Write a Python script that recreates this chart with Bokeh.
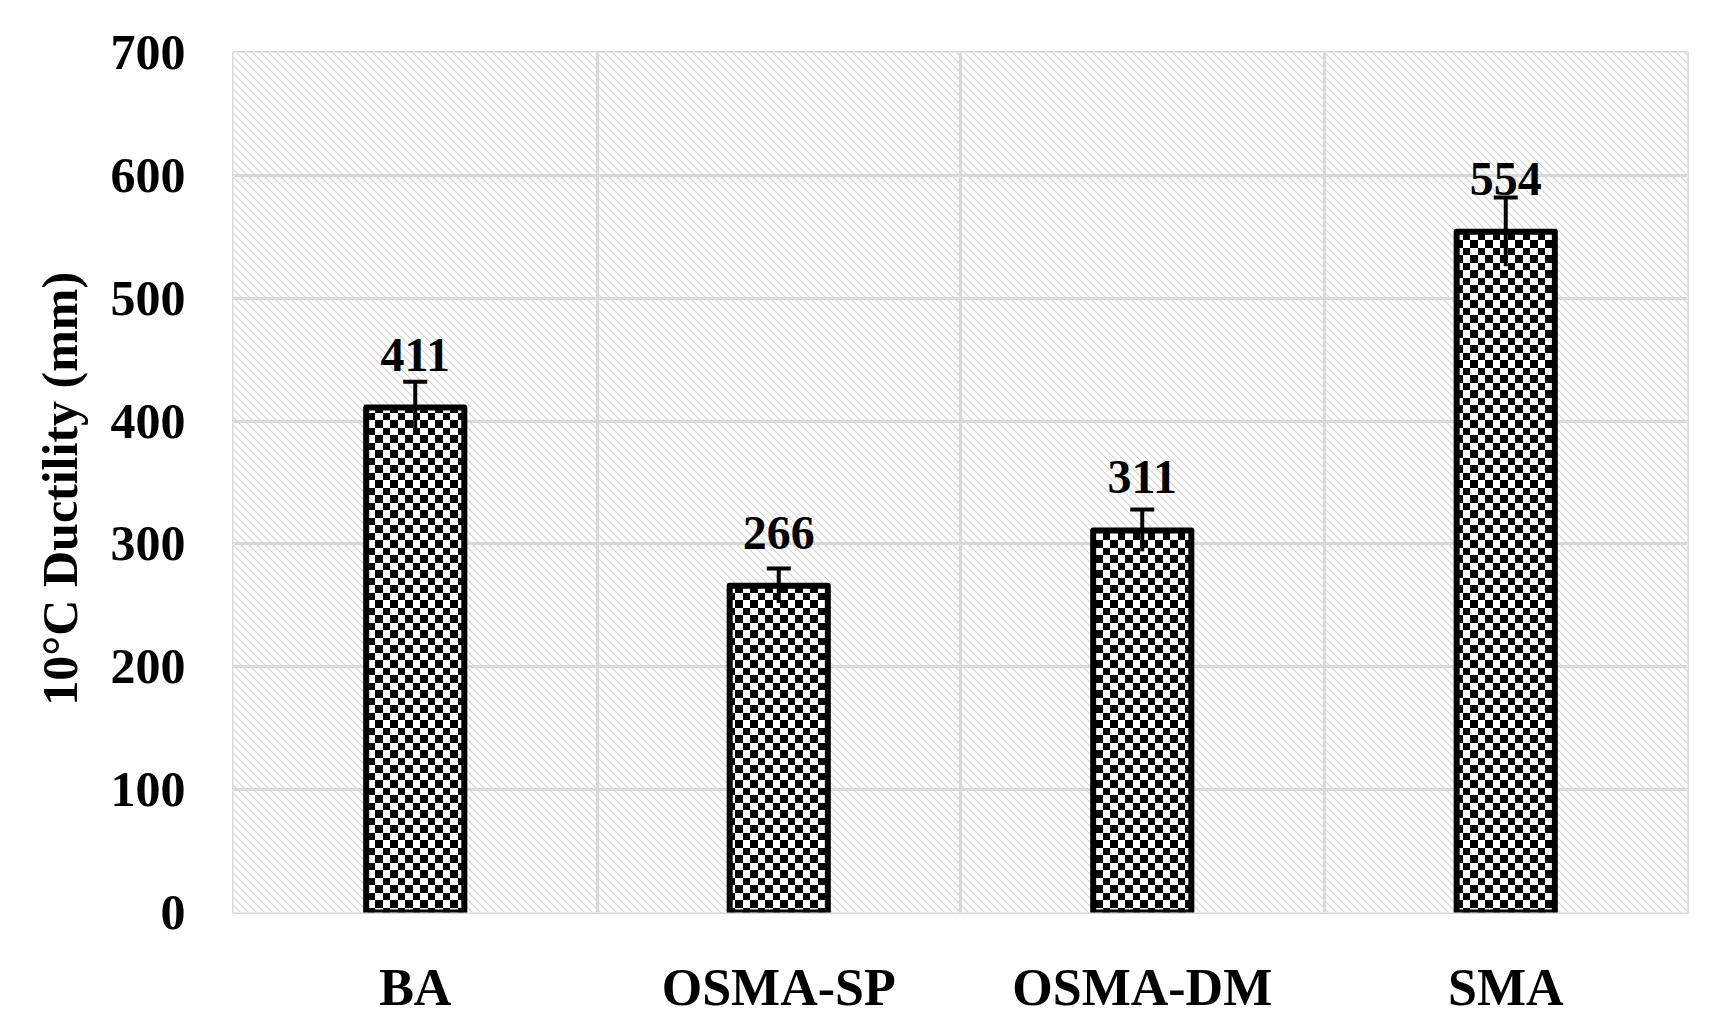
import base64, struct, zlib
from bokeh.plotting import figure
from bokeh.models import (ColumnDataSource, FixedTicker, Whisker, TeeHead, LabelSet,
                          BoxAnnotation, ImageURLTexture, FactorRange, Range1d)
from bokeh.core.properties import value
from bokeh.embed import file_html
from bokeh.resources import INLINE

categories = ["BA", "OSMA-SP", "OSMA-DM", "SMA"]
ductility = [411, 266, 311, 554]
errors = [21, 14, 17, 28]
y_ticks = [0, 100, 200, 300, 400, 500, 600, 700]
y_label = "10°C Ductility  (mm)"

src = ColumnDataSource(dict(
    cat=categories,
    val=ductility,
    upper=[v + e for v, e in zip(ductility, errors)],
    lower=[v - e for v, e in zip(ductility, errors)],
    label=[str(v) for v in ductility],
))

FONT = "Liberation Serif"


def png_url(n, pixel):
    rows = b""
    for yy in range(n):
        rows += b"\x00"
        for xx in range(n):
            g = pixel(xx, yy)
            rows += bytes([g, g, g, 255])

    def chunk(t, d):
        c = struct.pack(">I", len(d)) + t + d
        return c + struct.pack(">I", zlib.crc32(t + d) & 0xffffffff)
    png = (b"\x89PNG\r\n\x1a\n"
           + chunk(b"IHDR", struct.pack(">IIBBBBB", n, n, 8, 6, 0, 0, 0))
           + chunk(b"IDAT", zlib.compress(rows)) + chunk(b"IEND", b""))
    return "data:image/png;base64," + base64.b64encode(png).decode()


def checker_px(x, y):
    return 0 if (x < 8) == (y < 8) else 255


def diag_px(x, y):
    d = (x - y) % 8
    if d == 0:
        return 0xd2
    if d in (1, 7):
        return 0xf4
    return 0xff


checker_tex = ImageURLTexture(url=png_url(15, checker_px), repetition="repeat")
diag_tex = ImageURLTexture(url=png_url(8, diag_px), repetition="repeat")

p = figure(width=1704, height=1018,
           x_range=FactorRange(factors=categories), y_range=Range1d(0, 700),
           output_backend="svg", toolbar_location=None,
           min_border_left=233, min_border_right=17, min_border_top=52, min_border_bottom=105)
p.background_fill_color = "white"
p.border_fill_color = "white"
p.outline_line_color = "#d9d9d9"
p.outline_line_width = 3

bg = BoxAnnotation(fill_color="white", fill_alpha=1.0, line_alpha=0,
                   hatch_pattern="diag", hatch_extra={"diag": diag_tex}, level="image")
p.add_layout(bg)

p.ygrid.ticker = FixedTicker(ticks=y_ticks)
p.ygrid.grid_line_color = "#d9d9d9"
p.ygrid.grid_line_width = 3
p.xgrid.ticker = FixedTicker(ticks=[1, 2, 3])
p.xgrid.grid_line_color = "#d9d9d9"
p.xgrid.grid_line_width = 3

p.vbar(x="cat", top="val", width=0.27, source=src,
       fill_color="white", line_color="black", line_width=6, line_join="round",
       hatch_pattern=value("checker"), hatch_extra={"checker": checker_tex},
       hatch_color="black")

wk = Whisker(base="cat", upper="upper", lower="lower", source=src,
             line_color="black", line_width=4,
             upper_head=TeeHead(size=24, line_width=4, line_color="black"),
             lower_head=None, level="overlay")
p.add_layout(wk)

labels = LabelSet(x="cat", y="val", text="label", source=src, y_offset=37,
                  text_align="center", text_baseline="alphabetic",
                  text_font=value(FONT), text_font_size="48px", text_font_style="bold",
                  text_color="black")
p.add_layout(labels)

ya = p.yaxis[0]
ya.ticker = FixedTicker(ticks=y_ticks)
ya.axis_line_color = None
ya.major_tick_line_color = None
ya.minor_tick_line_color = None
ya.major_label_standoff = 42
ya.major_label_text_font = FONT
ya.major_label_text_font_size = "50px"
ya.major_label_text_font_style = "bold"
ya.major_label_text_color = "black"
ya.axis_label = y_label
ya.axis_label_text_font = FONT
ya.axis_label_text_font_size = "50px"
ya.axis_label_text_font_style = "bold"
ya.axis_label_text_color = "black"
ya.axis_label_standoff = 20

xa = p.xaxis[0]
xa.axis_line_color = None
xa.major_tick_line_color = None
xa.minor_tick_line_color = None
xa.major_label_standoff = 40
xa.major_label_text_font = FONT
xa.major_label_text_font_size = "52px"
xa.major_label_text_font_style = "bold"
xa.major_label_text_color = "black"

open("out.html", "w").write(file_html(p, INLINE))
